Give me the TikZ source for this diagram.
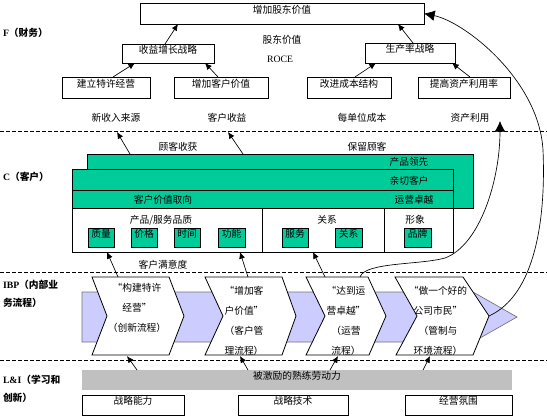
\documentclass[tikz,border=0pt]{standalone}
\usepackage{fontspec}
\setmainfont{Liberation Serif}
\newfontfamily\cjk{Noto Sans CJK SC}
\usetikzlibrary{arrows.meta,calc,fit}
\definecolor{cgreen}{RGB}{0,204,153}
\definecolor{cpurple}{RGB}{204,204,255}
\definecolor{cgray}{RGB}{192,192,192}
\begin{document}
\begin{tikzpicture}[x=0.75pt,y=-0.75pt,
 every node/.style={font=\cjk\fontsize{7.3}{9}\selectfont, inner sep=0pt, outer sep=0pt},
 box/.style={draw, fill=white, line width=0.6pt, inner sep=0pt},
 gbox/.style={draw, fill=cgreen, line width=0.6pt, inner sep=0pt},
 arr/.style={-{Latex[length=5pt,width=4.5pt]}, line width=0.5pt},
 bigarr/.style={-{Latex[length=8pt,width=8pt]}, line width=0.5pt},
 dline/.style={dash pattern=on 3pt off 1.5pt, line width=0.6pt},
 lbl/.style={anchor=west, align=left, font=\bfseries\fontsize{7.3}{13.5}\selectfont},
 ctext/.style={align=center, font=\cjk\fontsize{7.3}{15}\selectfont},
 chev/.style={draw, fill=white, line width=0.6pt, line join=miter}
]
\useasboundingbox (0,0) rectangle (547,419);

% ---------------- F ----------------
\node[lbl] (lf) at (3,33) {{\rmfamily F}{\cjk（财务）}};
\node[box, fit={(140,3) (424,24)}] (top) {增加股东价值};
\node (sv) at (282,40) {股东价值};
\node[font=\rmfamily\fontsize{7.3}{9}\selectfont] (roce) at (280,59) {ROCE};
\node[box, fit={(122,44) (214,63)}] (rev) {收益增长战略};
\node[box, fit={(365,43) (455,63)}] (prod) {生产率战略};
\node[box, fit={(62,77) (150,98)}] (fr) {建立特许经营};
\node[box, fit={(174,77) (268,98)}] (cv) {增加客户价值};
\node[box, fit={(307,77) (391,98)}] (cost) {改进成本结构};
\node[box, fit={(418,77) (510,98)}] (asset) {提高资产利用率};

\draw[arr] ($(fr.north)+(7,0)$) -- ($(rev.south)+(-33,0)$);
\draw[arr] ($(cv.north)+(-3,0)$) -- ($(rev.south)+(37,0)$);
\draw[arr] ($(rev.north)+(-3,0)$) -- ($(top.south)+(-104,0)$);
\draw[arr] ($(prod.north)+(3,0)$) -- ($(top.south)+(116,0)$);
\draw[arr] ($(cost.north)+(6,0)$) -- ($(prod.south)+(-34,0)$);
\draw[arr] ($(asset.north)+(6,0)$) -- ($(prod.south)+(42,0)$);

\node (n1) at (116,118) {新收入来源};
\node (n2) at (227,118) {客户收益};
\node (n3) at (362,118) {每单位成本};
\node (n4) at (470,118) {资产利用};

\draw[dline] (0,131) -- (547,131);
\draw[dline] (0,272) -- (547,272);
\draw[dline] (0,360) -- (547,360);

% ---------------- C ----------------
\node[lbl] (lc) at (3,177) {{\rmfamily C}{\cjk（客户）}};
\node (g1) at (178,147) {顾客收获};
\node (g2) at (367,147) {保留顾客};
\node[gbox, fit={(87,154) (473,208)}] (back) {};
\node[gbox, fit={(72,169) (453,190)}] (mid) {};
\node[gbox, fit={(72,190) (453,208)}] (front) {};
\node (pl) at (409,162) {产品领先};
\node (qk) at (409,181) {亲切客户};
\node (yy) at (414,200) {运营卓越};
\node (kh) at (163,200) {客户价值取向};
\node[box, fit={(72,208) (453,252)}] (wbox) {};
\draw[line width=0.6pt] (262,208) -- (262,252);
\draw[line width=0.6pt] (384,208) -- (384,252);
\node (pz) at (161,220) {产品/服务品质};
\node (gx) at (327,220) {关系};
\node (xx) at (415,220) {形象};
\node[gbox, fit={(88,228) (114,247)}] (s1) {质量};
\node[gbox, fit={(131,228) (157,247)}] (s2) {价格};
\node[gbox, fit={(174,228) (200,247)}] (s3) {时间};
\node[gbox, fit={(218,228) (245,247)}] (s4) {功能};
\node[gbox, fit={(282,228) (308,247)}] (s5) {服务};
\node[gbox, fit={(335,228) (362,247)}] (s6) {关系};
\node[gbox, fit={(404,228) (431,247)}] (s7) {品牌};
\node (my) at (163,265) {客户满意度};

\coordinate (u1) at (117,132);
\coordinate (u2) at (228,132);
\draw[arr] ($(back.north west)+(43,0)$) -- (u1);
\draw[arr] ($(back.north west)+(156,0)$) -- (u2);

% ---------------- IBP ----------------
\node[lbl] (li) at (3,294) {{\rmfamily IBP}{\cjk（内部业}\\{\cjk 务流程）}};
\draw[fill=cpurple, draw=black!55, line width=0.5pt]
  (82,292) -- (473,292) -- (517,317) -- (473,342) -- (82,342) -- cycle;
\draw[chev] (92,277) -- (169,277) -- (184,316) -- (169,355) -- (92,355) -- (107,316) -- cycle;
\draw[chev] (205,277) -- (282,277) -- (296,316) -- (282,355) -- (205,355) -- (223,316) -- cycle;
\draw[chev] (306,277) -- (368,277) -- (386,316) -- (369,355) -- (306,355) -- (325,316) -- cycle;
\draw[chev] (395,277) -- (463,277) -- (489,316) -- (473,355) -- (396,355) -- (417,316) -- cycle;
\node[ctext] (ch1) at (137,308) {“构建特许\\经营”\\（创新流程）};
\node[ctext] (ch2) at (244,321) {“增加客\\户价值”\\（客户管\\理流程）};
\node[ctext] (ch3) at (346,321) {“达到运\\营卓越”\\（运营\\流程）};
\node[ctext] (ch4) at (438,321) {“做一个好的\\公司市民”\\（管制与\\环境流程）};

\coordinate (b1t) at (118,277);
\coordinate (b2t) at (248,277);
\coordinate (b3t) at (325,277);
\draw[arr] (b1t) -- ($(wbox.south west)+(35,0)$);
\draw[arr] (b2t) -- ($(wbox.south west)+(168,0)$);
\draw[arr] (b3t) -- ($(wbox.south west)+(241,0)$);

\coordinate (c3s) at (360,277);
\coordinate (tp1) at (500,121);
\draw[bigarr] (c3s) .. controls (365,262) and (420,265) .. (445,258)
   .. controls (480,245) and (500,180) .. (tp1);
\coordinate (c4s) at (489,316);
\draw[bigarr] (c4s) .. controls (535,295) and (546,220) .. (543,150)
   .. controls (539,80) and (465,22) .. (top.east);

% ---------------- L&I ----------------
\node[lbl] (ll) at (3,389) {{\rmfamily L\&I}{\cjk（学习和}\\{\cjk 创新）}};
\node[fill=cgray, fit={(82,370) (512,390)}] (bar) {被激励的熟练劳动力};
\node[box, fit={(82,395) (184,415)}] (k1) {战略能力};
\node[box, fit={(238,395) (348,415)}] (k2) {战略技术};
\node[box, fit={(405,395) (512,415)}] (k3) {经营氛围};

\coordinate (d1) at (127,356);
\coordinate (d2) at (240,356);
\coordinate (d3) at (338,356);
\coordinate (d4) at (430,356);
\draw[arr] ($(bar.north west)+(55,0)$) -- (d1);
\draw[arr] ($(bar.north west)+(166,0)$) -- (d2);
\draw[arr] ($(bar.north west)+(248,0)$) -- (d3);
\draw[arr] ($(bar.north west)+(341,0)$) -- (d4);
\end{tikzpicture}
\end{document}
